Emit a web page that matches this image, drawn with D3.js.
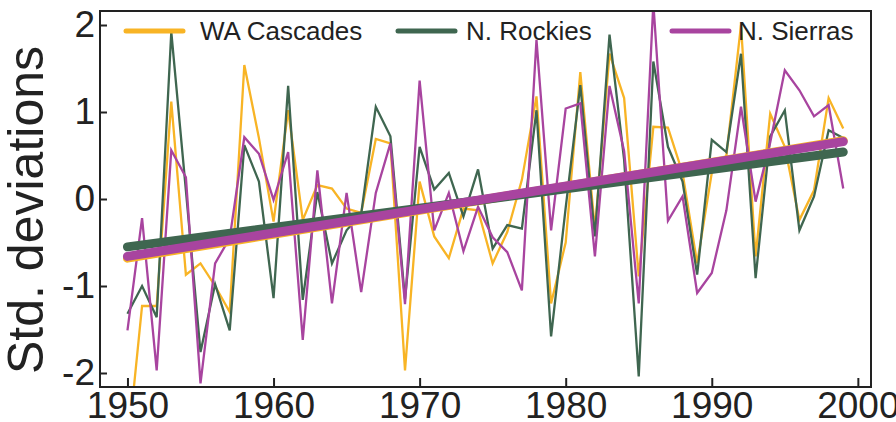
<!DOCTYPE html>
<html><head><meta charset="utf-8">
<script src="https://cdn.jsdelivr.net/npm/d3@7"></script>
<style>
html,body{margin:0;padding:0;background:#fff;}
svg{display:block;font-family:"Liberation Sans",Arial,sans-serif;}
</style></head>
<body><svg id="c" width="896" height="422"></svg>
<script>
const years = [1950,1951,1952,1953,1954,1955,1956,1957,1958,1959,
  1960,1961,1962,1963,1964,1965,1966,1967,1968,1969,
  1970,1971,1972,1973,1974,1975,1976,1977,1978,1979,
  1980,1981,1982,1983,1984,1985,1986,1987,1988,1989,
  1990,1991,1992,1993,1994,1995,1996,1997,1998,1999];
const waCascades = [-2.9,-1.23,-1.23,1.12,-0.87,-0.74,-1.0,-1.3,1.54,0.7,
  -0.26,1.02,-0.24,0.16,0.12,-0.11,-0.16,0.69,0.64,-1.97,
  0.2,-0.43,-0.68,-0.11,-0.13,-0.74,-0.38,0.22,1.18,-1.2,
  -0.5,1.46,-0.35,1.67,1.16,-0.89,0.83,0.82,0.3,-0.74,
  0.3,0.5,2.0,-0.66,0.98,0.6,-0.24,0.1,1.16,0.81];
const nRockies = [-1.32,-1.0,-1.36,1.92,0.1,-1.76,-0.98,-1.51,0.62,0.2,
  -1.14,1.3,-1.16,0.08,-0.74,-0.36,-0.17,1.06,0.72,-1.15,
  0.6,0.11,0.3,-0.2,0.34,-0.57,-0.3,-0.34,1.02,-1.58,
  -0.1,1.31,-0.43,1.89,0.45,-2.04,1.58,0.6,0.2,-0.87,
  0.68,0.54,1.67,-0.91,0.72,1.02,-0.36,0.03,0.79,0.7];
const nSierras = [-1.51,-0.22,-1.97,0.56,0.25,-2.12,-0.74,-0.45,0.71,0.52,
  -0.01,0.54,-1.62,0.33,-1.2,0.07,-1.07,0.07,0.64,-1.21,
  1.36,-0.36,0.07,-0.6,-0.09,-0.44,-0.61,-1.05,1.83,-0.36,
  1.04,1.1,-0.66,1.3,0.55,-1.2,2.25,-0.25,0.03,-1.08,
  -0.85,-0.13,1.06,-0.03,0.65,1.48,1.25,0.95,1.08,0.12];
// linear trend end values (first year, last year)
const trendYears = [1950, 1999];
const trendWA = [-0.68, 0.67];
const trendNR = [-0.55, 0.54];
const trendNS = [-0.66, 0.66];
const seriesNames = ["WA Cascades","N. Rockies","N. Sierras"];
const xTicks = [1950,1960,1970,1980,1990,2000];
const yTicks = [-2,-1,0,1,2];
const yLabel = "Std. deviations";

const colors = ["#F8B425","#3F6650","#A8449F"];
const svg = d3.select("#c");
const L=100, R=871, T=11, B=387;
const x = d3.scaleLinear().domain([1948.12, 2000.9]).range([L,R]);
const y = d3.scaleLinear().domain([-2.161, 2.161]).range([B,T]);

svg.append("defs").append("clipPath").attr("id","clip")
  .append("rect").attr("x",L).attr("y",T).attr("width",R-L).attr("height",B-T);

const g = svg.append("g").attr("clip-path","url(#clip)");
const line = d3.line().x((d,i)=>x(years[i])).y(d=>y(d));
[waCascades,nRockies,nSierras].forEach((s,k)=>{
  g.append("path").datum(s).attr("d",line).attr("fill","none")
   .attr("stroke",colors[k]).attr("stroke-width",2.3).attr("stroke-linejoin","miter");
});
const tline = d3.line().x((d,i)=>x(trendYears[i])).y(d=>y(d));
[[trendWA,0],[trendNR,1],[trendNS,2]].forEach(([t,k])=>{
  g.append("path").datum(t).attr("d",tline).attr("fill","none")
   .attr("stroke",colors[k]).attr("stroke-width",9).attr("stroke-linecap","round");
});

// axes
const ax = svg.append("g").attr("transform",`translate(0,${B})`)
  .call(d3.axisBottom(x).tickValues(xTicks).tickFormat(d3.format("d")).tickSizeInner(-9).tickSizeOuter(0).tickPadding(5));
const ay = svg.append("g").attr("transform",`translate(${L},0)`)
  .call(d3.axisLeft(y).tickValues(yTicks).tickSizeInner(-7).tickSizeOuter(0).tickPadding(5));
[ax,ay].forEach(a=>{
  a.select(".domain").remove();
  a.selectAll("line").attr("stroke","#222").attr("stroke-width",2);
  a.selectAll("text").attr("fill","#222").style("font-size","37px").style("font-family","'Liberation Sans', Arial, sans-serif");
});
ax.selectAll("text").attr("dy","0.71em");
ay.selectAll("text").text(d=>d<0?"-"+Math.abs(d):d);
svg.append("rect").attr("x",L).attr("y",T).attr("width",R-L).attr("height",B-T)
  .attr("fill","none").attr("stroke","#222").attr("stroke-width",2);

svg.append("text").attr("transform",`translate(43,210) rotate(-90)`)
  .attr("text-anchor","middle").attr("fill","#222").style("font-size","50px").text(yLabel);

// legend
const legX = [126, 398, 672];
const legTextX = [200, 466, 738];
seriesNames.forEach((n,k)=>{
  svg.append("line").attr("x1",legX[k]).attr("x2",legX[k]+57).attr("y1",31).attr("y2",31)
    .attr("stroke",colors[k]).attr("stroke-width",5).attr("stroke-linecap","round");
  svg.append("text").attr("x",legTextX[k]).attr("y",40).attr("fill","#222")
    .style("font-size","26px").text(n);
});
</script></body></html>
